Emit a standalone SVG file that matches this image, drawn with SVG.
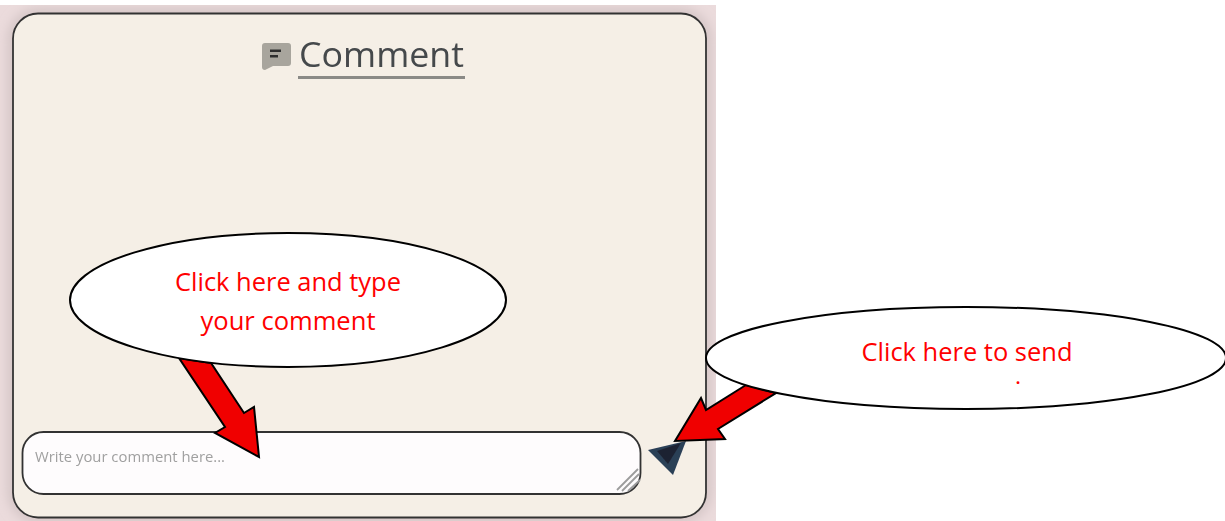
<svg xmlns="http://www.w3.org/2000/svg" width="1225" height="521" viewBox="0 0 1225 521">
<style>
.lbl{font-family:"Open Sans","Liberation Sans",sans-serif;font-size:25px;fill:#f00}
.arrow{fill:#f00000;stroke:#000;stroke-width:2;stroke-linejoin:miter}
.callout{fill:#fff;stroke:#000;stroke-width:2}
</style>
<defs>
<filter id="soft" x="-5%" y="-5%" width="110%" height="110%"><feGaussianBlur stdDeviation="0.45"/></filter>
<filter id="glow" x="-10%" y="-10%" width="120%" height="120%"><feGaussianBlur stdDeviation="6"/></filter>
<clipPath id="bgclip"><rect x="0" y="5" width="716" height="516"/></clipPath>
</defs>
<rect x="0" y="5" width="716" height="516" fill="#ebdbdc"/>
<g clip-path="url(#bgclip)">
<rect x="13" y="13.500" width="693" height="504" rx="26" fill="none" stroke="#cdbfbf" stroke-width="9" filter="url(#glow)"/>
</g>
<g id="panel" filter="url(#soft)">
<rect x="13" y="13.500" width="693" height="504" rx="25" fill="#f5efe6" stroke="#333" stroke-width="1.800"/>
</g>
<g id="title" filter="url(#soft)">
<path d="M265 43H288Q291 43 291 46V63Q291 66 288 66H273L265 70Q262 70 262 67V46Q262 43 265 43Z" fill="#a8a59d"/>
<rect x="270" y="49.500" width="11" height="2.500" fill="#2e2e2e"/>
<rect x="270" y="55" width="8" height="2.500" fill="#2e2e2e"/>
<text x="299" y="66.500" font-family="'Open Sans','Noto Sans',sans-serif" font-size="35" fill="#45484b" textLength="165" lengthAdjust="spacingAndGlyphs">Comment</text>
<rect x="298" y="76" width="167" height="3" fill="#8a8a86"/>
</g>
<g id="input" filter="url(#soft)">
<rect x="22.500" y="432" width="618" height="62" rx="21" fill="#fefcfd" stroke="#333" stroke-width="1.800"/>
<text x="35" y="462" font-family="'Open Sans','Noto Sans',sans-serif" font-size="14" fill="#a0a0a0" textLength="190" lengthAdjust="spacingAndGlyphs">Write your comment here...</text>
<path d="M617 490L638 469M622 491L639 474M628 491L640 480" stroke="#9c9c9c" stroke-width="1.800" fill="none"/>
</g>
<g id="send" filter="url(#soft)">
<polygon points="648,450 686,441 673,475" fill="#2b3f57"/>
<polygon points="657,451 681,443 668,464" fill="#1e2433"/>
</g>
<g id="connectors">
<polygon class="arrow" points="179,358 211,363 244,413 254,407 259,457 215,433 225,427"/>
<polygon class="arrow" points="746,385 776,393 718,429 725,439 675,441 701,398 706,410"/>
</g>
<g id="callout-comment">
<ellipse class="callout" cx="288" cy="300" rx="218" ry="67"/>
<text class="lbl" x="288" y="291" text-anchor="middle" textLength="226" lengthAdjust="spacingAndGlyphs">Click here and type</text>
<text class="lbl" x="288" y="330" text-anchor="middle" textLength="175" lengthAdjust="spacingAndGlyphs">your comment</text>
</g>
<g id="callout-send">
<ellipse class="callout" cx="966" cy="358" rx="260" ry="51"/>
<text class="lbl" x="967" y="361" text-anchor="middle" textLength="211" lengthAdjust="spacingAndGlyphs">Click here to send</text>
<text class="lbl" style="font-size:16px;font-weight:700" x="1018" y="384" text-anchor="middle">.</text>
</g>
</svg>
